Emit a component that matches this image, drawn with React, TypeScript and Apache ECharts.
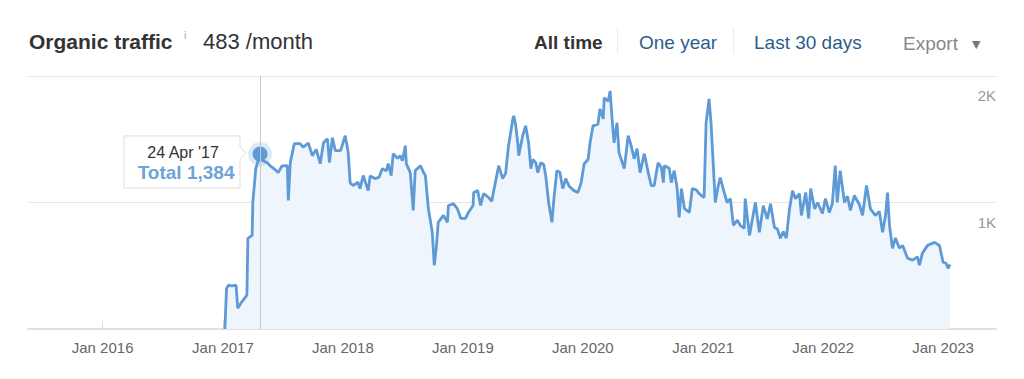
import React, { useEffect, useRef } from "react";
import * as echarts from "echarts";

// ---- Data ----
const trafficDates = [
  "2017-01-07","2017-01-12","2017-01-18","2017-01-28","2017-02-10","2017-02-15","2017-02-27","2017-03-15","2017-03-18","2017-03-31",
  "2017-04-02","2017-04-11","2017-04-24","2017-05-03","2017-05-15","2017-05-25","2017-06-09","2017-06-18","2017-06-30","2017-07-16",
  "2017-07-19","2017-07-25","2017-08-06","2017-08-24","2017-09-02","2017-09-18","2017-09-30","2017-10-12","2017-10-24","2017-11-03",
  "2017-11-15","2017-11-21","2017-11-30","2017-12-09","2017-12-25","2018-01-08","2018-01-17","2018-01-23","2018-02-01","2018-02-16",
  "2018-02-22","2018-03-04","2018-03-19","2018-03-25","2018-04-09","2018-04-21","2018-05-01","2018-05-13","2018-05-19","2018-05-28",
  "2018-06-03","2018-06-16","2018-06-25","2018-07-01","2018-07-10","2018-07-13","2018-07-25","2018-08-03","2018-08-09","2018-08-25",
  "2018-09-03","2018-09-09","2018-09-18","2018-09-30","2018-10-06","2018-10-12","2018-10-18","2018-11-03","2018-11-15","2018-11-18",
  "2018-12-03","2018-12-15","2018-12-26","2019-01-09","2019-01-18","2019-02-01","2019-02-03","2019-02-15","2019-02-24","2019-03-05",
  "2019-03-20","2019-03-30","2019-04-05","2019-04-20","2019-05-02","2019-05-11","2019-05-20","2019-06-02","2019-06-05","2019-06-11",
  "2019-06-17","2019-06-20","2019-07-02","2019-07-11","2019-07-20","2019-07-27","2019-08-02","2019-08-11","2019-08-17","2019-08-26",
  "2019-09-04","2019-09-10","2019-09-19","2019-09-29","2019-10-05","2019-10-14","2019-10-23","2019-11-01","2019-11-10","2019-11-20",
  "2019-12-05","2019-12-17","2019-12-27","2020-01-05","2020-01-17","2020-01-23","2020-02-01","2020-02-16","2020-02-22","2020-03-03",
  "2020-03-06","2020-03-18","2020-03-24","2020-03-30","2020-04-05","2020-04-14","2020-04-20","2020-05-03","2020-05-06","2020-05-18",
  "2020-05-27","2020-06-05","2020-06-14","2020-06-23","2020-07-06","2020-07-18","2020-07-27","2020-08-05","2020-08-17","2020-08-27",
  "2020-09-02","2020-09-05","2020-09-20","2020-09-26","2020-10-05","2020-10-14","2020-10-20","2020-10-27","2020-11-05","2020-11-20",
  "2020-11-29","2020-12-11","2020-12-20","2021-01-04","2021-01-10","2021-01-19","2021-01-25","2021-02-01","2021-02-07","2021-02-16",
  "2021-02-22","2021-03-06","2021-03-15","2021-03-25","2021-04-03","2021-04-15","2021-04-24","2021-05-06","2021-05-09","2021-05-22",
  "2021-05-31","2021-06-09","2021-06-21","2021-07-03","2021-07-15","2021-07-25","2021-08-06","2021-08-15","2021-08-24","2021-09-02",
  "2021-09-11","2021-09-21","2021-09-30","2021-10-09","2021-10-21","2021-10-27","2021-11-09","2021-11-18","2021-11-24","2021-12-06",
  "2021-12-15","2021-12-30","2022-01-08","2022-01-20","2022-01-29","2022-02-07","2022-02-13","2022-02-22","2022-03-07","2022-03-16",
  "2022-03-25","2022-04-06","2022-04-22","2022-05-01","2022-05-13","2022-05-25","2022-06-09","2022-06-21","2022-07-01","2022-07-10",
  "2022-07-16","2022-07-22","2022-07-31","2022-08-09","2022-08-21","2022-08-31","2022-09-15","2022-09-30","2022-10-15","2022-10-21",
  "2022-10-30","2022-11-15","2022-12-06","2022-12-21","2023-01-01","2023-01-10","2023-01-16","2023-01-22",
];

const trafficValues = [
  0, 320, 346, 340, 346, 165, 213, 268, 717, 740,
  1000, 1268, 1384, 1330, 1316, 1290, 1260, 1236, 1290, 1291,
  1016, 1315, 1465, 1465, 1438, 1470, 1370, 1420, 1307, 1472,
  1504, 1315, 1512, 1410, 1410, 1528, 1400, 1157, 1134, 1160,
  1110, 1213, 1094, 1210, 1189, 1200, 1268, 1250, 1307, 1213,
  1386, 1350, 1370, 1330, 1449, 1307, 1236, 937, 1252, 1291,
  1240, 1213, 953, 764, 504, 638, 843, 898, 843, 976,
  990, 953, 874, 874, 921, 976, 1079, 1094, 976, 1071,
  1040, 1010, 1094, 1291, 1189, 1230, 1449, 1661, 1685, 1606,
  1472, 1370, 1528, 1606, 1472, 1268, 1340, 1315, 1236, 1315,
  1300, 1213, 1000, 843, 1031, 1252, 1240, 1110, 1189, 1130,
  1094, 1080, 1157, 1307, 1340, 1472, 1606, 1620, 1740, 1661,
  1827, 1800, 1882, 1661, 1472, 1630, 1394, 1291, 1268, 1528,
  1450, 1346, 1425, 1236, 1386, 1236, 1134, 1134, 1315, 1276,
  1157, 1291, 1270, 1157, 1252, 1110, 882, 1110, 953, 921,
  1110, 1100, 1070, 1039, 1630, 1819, 1630, 1291, 1000, 1134,
  1197, 1080, 1000, 1030, 819, 860, 819, 795, 1031, 740,
  870, 1000, 764, 975, 870, 990, 803, 790, 717, 770,
  717, 953, 1094, 1030, 1070, 898, 1079, 874, 1110, 950,
  1000, 913, 1031, 920, 990, 1291, 1000, 1252, 1000, 1050,
  937, 1055, 980, 898, 1134, 950, 898, 930, 764, 900,
  1079, 819, 638, 720, 640, 660, 559, 545, 570, 504,
  600, 661, 685, 660, 528, 520, 480, 510,
];

const highlightDate = "2017-04-24";
const highlightValue = 1384;
const currentMonthly = 483;
const rangeTabs = ["All time", "One year", "Last 30 days"];
const yTicks = [0, 1000, 2000];
const xRange = ["2015-05-19", "2023-06-11"];
const monthNames = ["Jan","Feb","Mar","Apr","May","Jun","Jul","Aug","Sep","Oct","Nov","Dec"];

function toTs(s: string) {
  const [y, m, d] = s.split("-").map(Number);
  return new Date(y, m - 1, d).getTime();
}

export default function App() {
  const ref = useRef<HTMLDivElement>(null);

  useEffect(() => {
    const chart = echarts.init(ref.current!, null, { renderer: "svg" });
    const font = '"Liberation Sans", Arial, Helvetica, sans-serif';
    const lineColor = "#5e9ad6";
    const YEAR = 365 * 24 * 3600 * 1000;
    const data = trafficDates.map((d, i) => [toTs(d), trafficValues[i]]);
    const hTs = toTs(highlightDate);

    chart.setOption({
      animation: false,
      textStyle: { fontFamily: font },
      grid: { left: 28, right: 28, top: 76, bottom: 50 },
      xAxis: {
        type: "time",
        min: toTs(xRange[0]),
        max: toTs(xRange[1]),
        minInterval: YEAR,
        maxInterval: YEAR,
        axisLine: { lineStyle: { color: "#e0e0e0", width: 2 } },
        axisTick: { show: true, inside: true, length: 8, lineStyle: { color: "#dcdcdc" } },
        axisLabel: { color: "#666", fontSize: 15, margin: 11, formatter: "{MMM} {yyyy}" },
        splitLine: { show: false },
      },
      yAxis: {
        type: "value",
        position: "right",
        min: yTicks[0],
        max: yTicks[yTicks.length - 1],
        interval: yTicks[1] - yTicks[0],
        axisLine: { show: false },
        axisTick: { show: false },
        splitLine: { lineStyle: { color: "#e6e6e6", width: 1 } },
        axisLabel: {
          inside: true,
          margin: 0,
          color: "#999",
          fontSize: 15,
          verticalAlign: "top",
          padding: [12, 0, 0, 0],
          formatter: (v: number) => (v === 0 ? "" : v / 1000 + "K"),
        },
      },
      series: [
        {
          type: "line",
          data,
          symbol: "none",
          showSymbol: false,
          lineStyle: { color: lineColor, width: 2.8 },
          areaStyle: { color: "#eef5fc", opacity: 1 },
          markLine: {
            silent: true,
            symbol: ["none", "none"],
            label: { show: false },
            lineStyle: { color: "#c8c8c8", width: 1, type: "solid" },
            data: [{ xAxis: hTs }],
          },
          z: 2,
        },
        {
          type: "scatter",
          data: [[hTs, highlightValue]],
          symbol: "circle",
          symbolSize: 24,
          itemStyle: { color: "rgba(94,154,214,0.22)", opacity: 1 },
          silent: true,
          z: 3,
        },
        {
          type: "scatter",
          data: [[hTs, highlightValue]],
          symbol: "circle",
          symbolSize: 15,
          itemStyle: { color: lineColor, opacity: 1 },
          silent: true,
          z: 4,
        },
      ],
    });

    const [px, py] = chart.convertToPixel({ seriesIndex: 0 }, [hTs, highlightValue]) as number[];
    const hd = new Date(hTs);
    const dateLabel = `${hd.getDate()} ${monthNames[hd.getMonth()]} '${String(hd.getFullYear()).slice(2)}`;
    const totalLabel = `Total ${highlightValue.toLocaleString("en-US")}`;

    const bl = px - 136, br = px - 20, bt = py - 18, bb = py + 34;

    chart.setOption({
      graphic: [
        // header left
        { type: "text", x: 29, y: 41, style: { text: "Organic traffic", fontFamily: font, fontSize: 21, fontWeight: "bold", fill: "#333", verticalAlign: "middle" } },
        { type: "text", x: 184, y: 35, style: { text: "i", fontFamily: font, fontSize: 11, fill: "#aaa", verticalAlign: "middle" } },
        { type: "text", x: 203, y: 41, style: { text: `${currentMonthly} /month`, fontFamily: font, fontSize: 22, fill: "#333", verticalAlign: "middle" } },
        // header right
        { type: "text", x: 534, y: 42, style: { text: rangeTabs[0], fontFamily: font, fontSize: 19, fontWeight: "bold", fill: "#333", verticalAlign: "middle" } },
        { type: "line", shape: { x1: 617.5, y1: 28, x2: 617.5, y2: 54 }, style: { stroke: "#ececec", lineWidth: 1 } },
        { type: "text", x: 639, y: 42, style: { text: rangeTabs[1], fontFamily: font, fontSize: 19, fill: "#2e5d8c", verticalAlign: "middle" } },
        { type: "line", shape: { x1: 733.5, y1: 28, x2: 733.5, y2: 54 }, style: { stroke: "#ececec", lineWidth: 1 } },
        { type: "text", x: 754, y: 42, style: { text: rangeTabs[2], fontFamily: font, fontSize: 19, fill: "#2e5d8c", verticalAlign: "middle" } },
        { type: "text", x: 903, y: 43, style: { text: "Export", fontFamily: font, fontSize: 19, fill: "#888", verticalAlign: "middle" } },
        { type: "text", x: 972, y: 44, style: { text: "▼", fontFamily: "DejaVu Sans, sans-serif", fontSize: 11, fill: "#777", verticalAlign: "middle" } },
        // tooltip box
        {
          type: "polygon",
          z: 100,
          shape: {
            points: [
              [bl, bt], [br, bt], [br, py - 7], [br + 6, py - 1], [br, py + 5], [br, bb], [bl, bb],
            ],
          },
          style: { fill: "#fff", stroke: "#dedede", lineWidth: 1 },
        },
        { type: "text", z: 101, x: (bl + br) / 2 + 1, y: py - 1, style: { text: dateLabel, fontFamily: font, fontSize: 16, fill: "#333", align: "center", verticalAlign: "middle" } },
        { type: "text", z: 101, x: (bl + br) / 2 + 4, y: py + 19, style: { text: totalLabel, fontFamily: font, fontSize: 19, fontWeight: "bold", fill: "#6ea3d8", align: "center", verticalAlign: "middle" } },
      ],
    });

    return () => chart.dispose();
  }, []);

  return <div ref={ref} style={{ position: "fixed", left: 0, top: 0, width: 1024, height: 379, background: "#fff" }} />;
}
